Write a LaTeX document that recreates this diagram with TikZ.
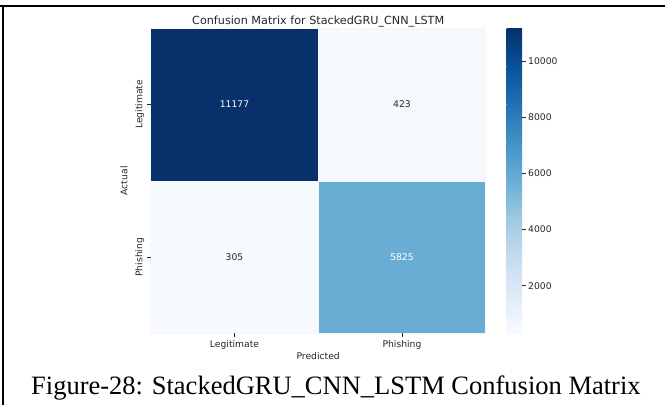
\documentclass[tikz,border=0pt]{standalone}
\usepackage{fontspec}
\setmainfont{Liberation Serif}
\newfontfamily\dvs{DejaVu Sans}
\definecolor{bA}{HTML}{F7FBFF}
\definecolor{bB}{HTML}{DEEBF7}
\definecolor{bC}{HTML}{C6DBEF}
\definecolor{bD}{HTML}{9ECAE1}
\definecolor{bE}{HTML}{6BAED6}
\definecolor{bF}{HTML}{4292C6}
\definecolor{bG}{HTML}{2171B5}
\definecolor{bH}{HTML}{08519C}
\definecolor{bI}{HTML}{08306B}
\definecolor{cellTL}{HTML}{08306B}
\definecolor{cellTR}{HTML}{F5F9FE}
\definecolor{cellBL}{HTML}{F7FBFF}
\definecolor{cellBR}{HTML}{69ADD5}
\definecolor{tickc}{HTML}{262626}
\begin{document}
\begin{tikzpicture}[x=1pt,y=-1pt,
  lbl/.style={font=\dvs\fontsize{9.2}{11}\selectfont, text=tickc, inner sep=0pt},
  ttl/.style={font=\dvs\fontsize{11.2}{13}\selectfont, text=tickc, inner sep=0pt},
  cellbox/.style={draw=white!92!cellBR, line width=0.6pt, inner sep=0pt},
  tickline/.style={draw=tickc, line width=0.6pt},
  frameline/.style={draw=black, line width=2.4pt}]
\useasboundingbox (0,0) rectangle (665,405);
\fill[white] (0,0) rectangle (665,405);
% frame
\draw[frameline] (0,6) -- (665,6);
\draw[frameline] (3,5) -- (3,405);
% heatmap cells
\path[fill=cellTL, cellbox] (150.7,28.3) rectangle (318.3,181);
\path[fill=cellTR, cellbox] (318.3,28.3) rectangle (485.7,181);
\path[fill=cellBL, cellbox] (150.7,181) rectangle (318.3,333.3);
\path[fill=cellBR, cellbox] (318.3,181) rectangle (485.7,333.3);
% cell values
\node[lbl, text=white] (v11) at (234.5,104.3) {11177};
\node[lbl] (v12) at (402,104.3) {423};
\node[lbl] (v21) at (234.5,257.3) {305};
\node[lbl, text=white] (v22) at (402,257.3) {5825};
% title
\node[ttl, anchor=base] (title) at (318.2,24.3) {Confusion Matrix for StackedGRU\_CNN\_LSTM};
% y ticks
\coordinate (yt1a) at (147.2,104.3); \coordinate (yt1b) at (150.7,104.3);
\coordinate (yt2a) at (147.2,257.3); \coordinate (yt2b) at (150.7,257.3);
\draw[tickline] (yt1a) -- (yt1b);
\draw[tickline] (yt2a) -- (yt2b);
\node[lbl, rotate=90, anchor=base] (yl1) at (142.3,104.3) {Legitimate};
\node[lbl, rotate=90, anchor=base] (yl2) at (142.3,257.3) {Phishing};
\node[lbl, rotate=90, anchor=base] (ylab) at (127.3,180.8) {Actual};
% x ticks
\coordinate (xt1a) at (234.5,333.3); \coordinate (xt1b) at (234.5,336.8);
\coordinate (xt2a) at (402,333.3); \coordinate (xt2b) at (402,336.8);
\draw[tickline] (xt1a) -- (xt1b);
\draw[tickline] (xt2a) -- (xt2b);
\node[lbl, anchor=base] (xl1) at (234.5,347.3) {Legitimate};
\node[lbl, anchor=base] (xl2) at (402,347.3) {Phishing};
\node[lbl, anchor=base] (xlab) at (318.2,359.3) {Predicted};
% colorbar
\foreach \lo/\hi [count=\i from 0] in {bA/bB,bB/bC,bC/bD,bD/bE,bE/bF,bF/bG,bG/bH,bH/bI}{
  \pgfmathsetmacro{\ybot}{333.3-\i*38.125}
  \pgfmathsetmacro{\ytop}{333.3-(\i+1)*38.125-0.3}
  \shade[bottom color=\lo, top color=\hi, middle color=\lo!50!\hi] (506.7,\ybot) rectangle (522,\ytop);
}
\foreach \v in {2000,4000,6000,8000,10000}{
  \pgfmathsetmacro{\yy}{333.3-(\v-305)/10872*305}
  \coordinate (cb\v a) at (522,\yy);
  \coordinate (cb\v b) at (525.5,\yy);
  \draw[tickline] (cb\v a) -- (cb\v b);
  \node[lbl, anchor=west] (cbl\v) at (528,\yy) {\v};
}
% caption
\node[inner sep=0pt, anchor=base, font=\fontsize{26.5}{30}\selectfont] (cap) at (335.9,394.3) {Figure-28: StackedGRU\_CNN\_LSTM Confusion Matrix};
\end{tikzpicture}
\end{document}
